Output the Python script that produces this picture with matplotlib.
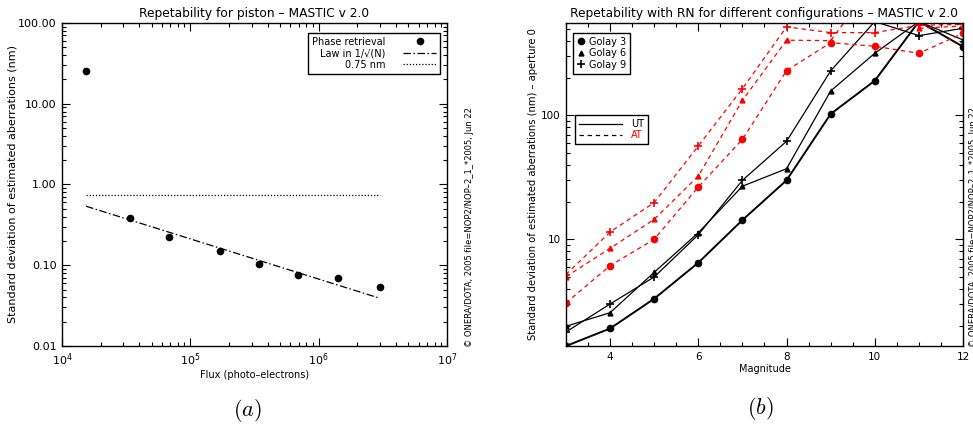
import matplotlib
matplotlib.use('Agg')
import matplotlib.pyplot as plt
from matplotlib.ticker import LogLocator, FixedLocator, FixedFormatter, NullFormatter, MultipleLocator
import numpy as np

plt.rcParams['font.family'] = ['DejaVu Sans']
plt.rcParams['mathtext.fontset'] = 'dejavusans'

# ---- panel (a) : piston repeatability ----
flux = [1.54e4, 3.4e4, 6.85e4, 1.71e5, 3.4e5, 6.85e5, 1.42e6, 3.0e6]
sigma_piston = [25.6, 0.386, 0.223, 0.149, 0.103, 0.0766, 0.069, 0.0533]
law_flux = [1.54e4, 3.0e6]
law_val = [0.538, 0.039]
ref_flux = [1.54e4, 3.0e6]
ref_val = [0.75, 0.75]

# ---- panel (b) : repeatability vs magnitude ----
mag = [3, 4, 5, 6, 7, 8, 9, 10, 11, 12]
ut_golay3 = [1.38, 1.91, 3.32, 6.48, 14.3, 29.9, 102.5, 190, 570, 358]
ut_golay6 = [1.99, 2.56, 5.42, 11.3, 26.8, 37.1, 157, 316, 570, 405]
ut_golay9 = [1.79, 3.01, 4.97, 10.9, 29.9, 61.7, 228, 570, 439, 503]
at_golay3 = [3.07, 6.13, 10.0, 26.4, 64, 229, 385, 360, 316, 458]
at_golay6 = [5.0, 8.46, 14.5, 32.4, 132, 403, 400, 1200, 503, 525]
at_golay9 = [5.2, 11.45, 19.8, 56.6, 164, 516, 464, 464, 532, 540]

fs = 8      # tick labels
tfs = 8.8   # titles
lfs = 7     # legends / x labels
red = '#ff0000'

fig = plt.figure(figsize=(9.73, 4.24), dpi=100)
axa = fig.add_axes([0.0637, 0.184, 0.3957, 0.7618])
axb = fig.add_axes([0.5817, 0.184, 0.408, 0.7618])

for ax in (axa, axb):
    ax.tick_params(which='both', direction='in', top=True, right=True, labelsize=fs, pad=4)
    ax.tick_params(which='major', length=6, width=0.8)
    ax.tick_params(which='minor', length=3, width=0.8)
    for s in ax.spines.values():
        s.set_linewidth(1.0)
axb.tick_params(labelsize=7.5)

# panel (a)
axa.set_xscale('log')
axa.set_yscale('log')
axa.plot(flux, sigma_piston, 'o', color='black', ms=4.5, label='Phase retrieval')
axa.plot(law_flux, law_val, color='black', lw=0.9, dashes=(6, 2, 1.2, 2), label='Law in 1/\u221a(N)')
axa.plot(ref_flux, ref_val, color='black', lw=0.9, dashes=(1, 1.5), label='0.75 nm')
axa.set_xlim(1e4, 1e7)
axa.set_ylim(0.01, 100)
axa.yaxis.set_major_locator(FixedLocator([0.01, 0.1, 1, 10, 100]))
axa.yaxis.set_major_formatter(FixedFormatter(['0.01', '0.10', '1.00', '10.00', '100.00']))
axa.yaxis.set_minor_locator(LogLocator(base=10, subs=np.arange(2, 10)))
axa.yaxis.set_minor_formatter(NullFormatter())
axa.xaxis.set_minor_locator(LogLocator(base=10, subs=np.arange(2, 10)))
axa.xaxis.set_minor_formatter(NullFormatter())
axa.set_title('Repetability for piston \u2013 MASTIC v 2.0', fontsize=tfs, pad=4)
axa.set_xlabel('Flux (photo\u2013electrons)', fontsize=lfs, labelpad=1)
axa.set_ylabel('Standard deviation of estimated aberrations (nm)', fontsize=fs, labelpad=0)
lga = axa.legend(loc='upper right', bbox_to_anchor=(0.982, 0.969), borderaxespad=0,
                 markerfirst=False, fontsize=lfs, fancybox=False, framealpha=1,
                 edgecolor='black', handlelength=3.4, handletextpad=1.8,
                 labelspacing=0.15, borderpad=0.4)
lga.get_frame().set_linewidth(1.0)

# panel (b)
axb.set_yscale('log')
axb.plot(mag, ut_golay3, '-o', color='black', lw=1.4, ms=4.5)
axb.plot(mag, ut_golay6, '-^', color='black', lw=0.9, ms=3.5)
axb.plot(mag, ut_golay9, '-+', color='black', lw=0.9, ms=6, mew=1.2)
axb.plot(mag, at_golay3, 'o', color=red, ls=(0, (3.5, 3)), lw=0.9, ms=4.5)
axb.plot(mag, at_golay6, '^', color=red, ls=(0, (3.5, 3)), lw=0.9, ms=3.5)
axb.plot(mag, at_golay9, '+', color=red, ls=(0, (3.5, 3)), lw=0.9, ms=6, mew=1.2)
axb.set_xlim(3, 12)
axb.set_ylim(1.38, 555)
axb.xaxis.set_major_locator(MultipleLocator(2))
axb.xaxis.set_minor_locator(MultipleLocator(0.5))
axb.yaxis.set_major_locator(FixedLocator([10, 100]))
axb.yaxis.set_major_formatter(FixedFormatter(['10', '100']))
axb.yaxis.set_minor_locator(LogLocator(base=10, subs=np.arange(2, 10)))
axb.yaxis.set_minor_formatter(NullFormatter())
axb.set_title('Repetability with RN for different configurations \u2013 MASTIC v 2.0', fontsize=tfs, pad=4)
axb.set_xlabel('Magnitude', fontsize=lfs, labelpad=2)
axb.set_ylabel('Standard deviation of estimated aberrations (nm) \u2013 aperture 0', fontsize=7.2, labelpad=2)

h3, = axb.plot([], [], 'o', color='black', ms=4.5)
h6, = axb.plot([], [], '^', color='black', ms=3.5)
h9, = axb.plot([], [], '+', color='black', ms=6, mew=1.2)
lg1 = axb.legend([h3, h6, h9], ['Golay 3', 'Golay 6', 'Golay 9'], loc='upper left',
                 bbox_to_anchor=(0.0176, 0.969), borderaxespad=0, fontsize=lfs,
                 fancybox=False, framealpha=1, edgecolor='black', handlelength=0.8,
                 handletextpad=0.4, labelspacing=0.15, borderpad=0.4)
lg1.get_frame().set_linewidth(1.0)
axb.add_artist(lg1)
hu, = axb.plot([], [], color='black', lw=0.9)
ha, = axb.plot([], [], color='black', lw=0.9, ls=(0, (3.5, 3)))
lg2 = axb.legend([hu, ha], ['UT', 'AT'], loc='upper left', bbox_to_anchor=(0.0227, 0.715),
                 borderaxespad=0, fontsize=lfs, fancybox=False,
                 framealpha=1, edgecolor='black', handlelength=4.4, handletextpad=1.0,
                 labelspacing=0.15, borderpad=0.4)
lg2.get_frame().set_linewidth(1.0)
lg2.get_texts()[1].set_color(red)

# copyright stamps
stamp = '\u00a9 ONERA/DOTA, 2005 file=NOP2/NOP\u20132_1_*2005, Jun 22'
fig.text(470 / 973, 1 - 347 / 424, stamp, rotation=90, rotation_mode='anchor',
         ha='left', va='center', fontsize=6)
fig.text(973 / 973, 1 - 347 / 424, stamp, rotation=90, rotation_mode='anchor',
         ha='left', va='center', fontsize=6)

# captions
fig.text(247 / 973, 1 - 410 / 424, r'$(a)$', ha='center', va='center', fontsize=16,
         math_fontfamily='cm')
fig.text(760 / 973, 1 - 408 / 424, r'$(b)$', ha='center', va='center', fontsize=16,
         math_fontfamily='cm')

fig.savefig('out.png', dpi=100)
